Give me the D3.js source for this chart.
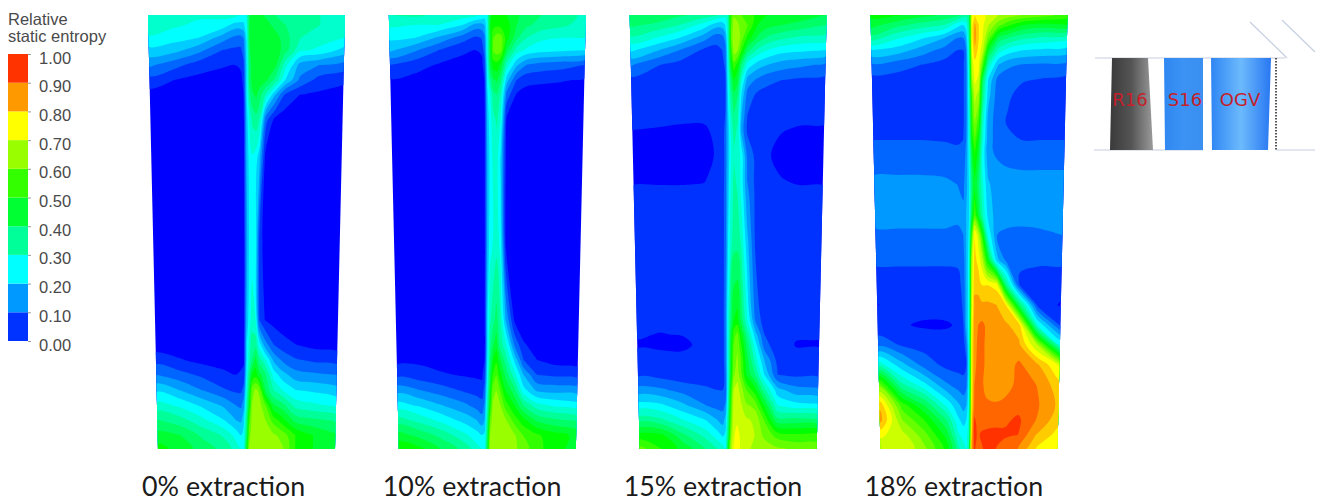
<!DOCTYPE html>
<html>
<head>
<meta charset="utf-8">
<script src="https://cdn.jsdelivr.net/npm/d3@7"></script>
<style>
  html, body { margin: 0; padding: 0; background: #fff; }
  svg { display: block; }
</style>
</head>
<body>
<svg width="1336" height="501"></svg>
<script>
// chord position: -1 = left edge, 0 = wake, 1 = right edge
const chord = [-1, -0.75, -0.5, -0.25, -0.12, -0.06, -0.03, 0, 0.03, 0.06, 0.1, 0.14, 0.2, 0.3, 0.4, 0.55, 0.75, 1];

// span position in % from casing, one row of values per entry
const span0 = [0, 2.3, 5.3, 8.1, 11.5, 15, 18.4, 24.2, 33.4, 51.8, 70.3, 76, 79.5, 82.9, 86.4, 89.9, 93.3, 96.8, 100];
const span10 = span0;
const span15 = [0, 2.3, 5.3, 8.1, 11.5, 15, 18.4, 23, 26.5, 32.3, 38, 41.5, 51.8, 70.3, 73.7, 76, 79.5, 82.9, 86.4, 89.9, 93.3, 96.8, 100];
const span18 = [0, 2.3, 5.3, 8.1, 11.5, 15, 18.4, 24.2, 28.8, 31.1, 35.7, 39.2, 46.1, 50.7, 56.5, 62.2, 66.8, 71.4, 76, 80.6, 85.3, 89.9, 93.3, 96.8, 100];

// relative static entropy x 100
const entropy0 = [
  [34,33,31,31.5,32,30,28, 30, 44,47,47,46,44,40,38,37,35,33],
  [32,31,29,28,23,23,24, 28, 45,48,49,48,47,43,40,37,35,33],
  [29.5,27,25,17.5,13.5,13,15, 26, 45,48,49,49,49,47,42,35,32,30],
  [23.5,22,17,10,9,9,12, 25, 44,48,49,49,49,48,42,31,29,23],
  [16,12,7.5,5.5,5,6,9, 24, 42,47,49,49,48,46,32,18,15,13],
  [8,5,3.5,3,3,3,7, 24, 42,47,48,48,46,38,25,14,8,6],
  [3,2.5,2,2,2,2,5, 24, 38,44,46,42,34,20,9,5,4,3],
  [2,2,2,2,2,2,3, 22, 30,36,38,34,12,3,2,2,2,2],
  [2,2,2,2,2,2,3, 20, 27,29,27,20,3,2,2,2,2,2],
  [2,2,2,2,2,2,3, 18, 26,28,26,8,2,2,2,2,2,2],
  [2,2,2,2,2,2,3, 20, 28,32,30,10,5,3,2,2,2,2],
  [2,2,2,2,2,2,3, 24, 32,38,38,28,18,10,7,5,3.5,3],
  [8,5.5,3.5,3,3,3,4, 24, 34,40,47,38,32,19,14,10.5,9,8],
  [15,12,9,6,5,6,7, 26, 40,50,53,47,42,28,22,17,16,15],
  [24,20,15,10.5,9,9,12, 30, 45,62,66,64,46,35,30,25,24,22],
  [32,29,24,19,15,14,18, 34, 50,65,68,67,62,46,42,33,31,29],
  [40,37,31.5,25,20,19,24, 38, 58,66,68,68,66,58,52,43,41,39],
  [47,45,39,34,28,25,27, 42, 62,68,69,68,67,66,63,55,50,46],
  [52,48,43,38,33,30,30, 48, 66,70,69,68,67,67,66,55,50,48]
];

const entropy10 = [
  [35,36,34,33,32,30,28, 30, 48,52,52,52,50,46,42,40,37,34],
  [31,30,30,25,18,18,20, 30, 50,53,54,53,52,45,41,38,36,33],
  [26,25,19,12,9,10,14, 30, 48,60,63,62,52,41,35,31,30,30],
  [21,16,10,6,5,6,12, 30, 48,61,63,62,45,33,29,27,26,25],
  [10,7,4.5,3,3,3,8, 28, 46,52,53,48,33,21,15,13,12,10],
  [4.5,3.5,3,2,2,3,5, 26, 38,44,46,40,22,10,6.5,6,5.5,4.5],
  [2,2,2,2,2,2,4, 24, 30,38,40,34,13,4.5,3,2.5,2,2],
  [2,2,2,2,2,2,3, 22, 28,33,36,30,4,2,2,2,2,2],
  [2,2,2,2,2,2,3, 20, 27,31,32,24,3,2,2,2,2,2],
  [2,2,2,2,2,2,3, 20, 28,30,33,28,3,2,2,2,2,2],
  [2,2,2,2,2,2,3, 24, 34,38,42,36,20,4,2,2,2,2],
  [2,2,2,2,2,2,3, 24, 38,44,48,38,32,14,5.5,3,2,2],
  [3.5,4,3,2.5,2.5,3,5, 25, 40,50,54,46,38,24,10,5,3,2.5],
  [8.5,7,5.5,4.5,4,4,8, 27, 44,55,60,52,44,32,20,10,9,8],
  [18,15,12,9,8,7,12, 30, 48,62,65,60,50,42,27,19,18,17.5],
  [27,24,20,16,13,12,16, 34, 52,66,68,66,58,50,40,32,29,27],
  [37,33,28,23,20,17,20, 38, 60,68,69,68,66,58,52,44,41,39],
  [47,43,38,31,27,25,26, 42, 65,69,69,68,67,66,60,56,52,49],
  [54,51,44,38,32,30,30, 44, 67,69,69,68,67,66,63,57,52,48]
];

const entropy15 = [
  [45,44,41,38,36,33,32, 35, 58,64,62,60,58,53,50,50,48,45],
  [41,39,35,28,22,22,25, 34, 60,68,66,62,60,50,47,45,43,40],
  [34,30,25,17,12,13,17, 34, 60,70,68,62,53,44,39,36,33.5,33],
  [26,21,15,9,8.5,10,13, 32, 56,68,65,55,42,34,30,27,26,25],
  [15.5,10.5,8,7,7,8,11, 30, 50,58,52,40,28,22.5,20,17.5,16,14],
  [8.5,7.5,7,7,7,7,9, 28, 42,50,46,30,18,14,11.5,10,9,8.5],
  [7,7,7,7,6.5,7,9, 26, 38,44,40,24,13,9,8,8,7.5,7.5],
  [6,6,5.8,5.8,6,7,10, 24, 34,40,36,20,10,7.5,7,6.5,6,6],
  [5,4.8,4.5,4.5,5.8,7,12, 22, 32,37,34,18,9,7.5,7,5.2,4.6,4.5],
  [4,4,4,4,5.3,7,12, 22, 30,35,33,28,14,8,5.5,4,4,4],
  [4.5,4.5,4.5,4.8,6.5,7.5,12, 23, 31,36,34,28,15,8,7,5.2,4.5,4.5],
  [6,6,6,6,7,8,12, 23, 32,36,35,29,17,8,7,6,6,6],
  [7,7,7,7,7,8,12, 25, 33,38,38,34,22,8,7,6.5,6.5,6.5],
  [5.5,5.5,5.5,6,6,7,14, 30, 42,50,52,44,32,14,7,6,6,6],
  [5.2,4.9,5.1,6,6,7,14, 30, 46,58,62,52,40,22,10,6,5.3,5.2],
  [4.8,4.5,4.3,6,6,7,14, 30, 48,60,64,56,44,27,12,6.5,4.8,4.8],
  [5.8,6,6,6,6,7,14, 30, 49,62,66,60,48,33,20,8,6,6],
  [9,8,7,7,7,7.5,12, 30, 50,64,68,62,50,40,25,10,9,9],
  [17,16,13,11,10,10,11, 32, 54,70,72,68,60,52,37,22,17,16],
  [27,26,21,15,13,13,16, 34, 58,72,73,71,66,63,50,30,27,26],
  [38,36,30,25,20,18,22, 38, 60,73,74,73,71,69,60,42,42,41],
  [52,51,41,33,27,24,26, 42, 64,74,77,74,72,70,64,58,56,57],
  [62,55,48,40,35,32,30, 48, 68,75,78,74,72,68,68,66,64,63]
];

const entropy18 = [
  [52,51,47,44,42,38,36, 40, 76,80,78,76,74,70,68,65,62,58],
  [47,42,38,35,27,25,28, 38, 78,86,80,76,70,62,56,50,48,50],
  [38,31,26,20,15,15,20, 36, 78,87,80,75,62,44,40,36,34,32],
  [25,23,18,13,10,10,15, 34, 76,84,78,72,48,33,28,25,24,23],
  [14,12,10,8,8,9,14, 32, 72,78,76,60,34,20,16,14.5,14,13.5],
  [8,8,8,8,8,9,14, 30, 68,76,74,44,24,13,12,10.5,9.5,8.5],
  [8,8,8,8,8,9,14, 30, 60,72,68,40,22,12,11,8,8,8],
  [8,8,8,8,8,9,14, 28, 56,66,58,34,18,12,9.5,8,8,8],
  [10,10,10,9.5,9,10,15, 28, 52,60,50,32,17,13,11,10,10,10],
  [12,12,12,12,11,12,16, 27, 48,56,48,30,16,14,12,12,12,12],
  [14.5,14.5,14.5,14,13,13,17, 26, 44,52,44,30,19,16,15.5,15,15,15],
  [16,16,16,16,15,14,18, 25, 42,50,42,32,21,17,17,16,16,16],
  [17,17,17,17,16,16,20, 25, 46,60,48,36,24,17,17,17,17,17],
  [14,14,14,14,14,15,20, 26, 60,80,72,56,30,15,14,13.5,14,15],
  [11,11,11,11,11,13,20, 28, 70,82,78,72,52,22,14,11,11,11],
  [7,7,7,7,8,12,20, 28, 72,84,84,80,80,78,40,9,7,7],
  [4.9,6,7,7,7,11,20, 28, 74,86,86,86,86,85,80,42,8,4.5],
  [6,5.5,4.4,4.5,5.5,10,20, 28, 76,88,90,91,89,88,86,82,30,9],
  [13.5,9.5,8,7,7,8,14, 28, 78,88,91,91,89,88,88,86,70,30],
  [33,22,13,8.5,8,8,10, 28, 78,89,91,91,89,86,87,91,86,74],
  [63,37,27,16,13,12,14, 30, 78,90,91,91,88,85,87,92,90,82],
  [84,58,45,29,21,18,20, 30, 80,91,92,92,91,91,92,93,91,84],
  [87,65,55,40,26,23,25, 32, 82,96,93,92,92,93,94,96,90,82],
  [76,72,62,48,31,28,28, 34, 84,97,94,96,97,97,96,95,85,78],
  [72,75,66,53,36,32,30, 36, 86,96,92,94,97,95,92,90,80,76]
];

const extractionLabels = ['0% extraction', '10% extraction', '15% extraction', '18% extraction'];
const spans = [span0, span10, span15, span18];
const entropies = [entropy0, entropy10, entropy15, entropy18];

const contourLevels = d3.range(0, 100, 5);
const legendLevels = d3.range(0, 100, 10);
const legendTicks = d3.range(0, 1.01, 0.1);

const rainbow = d3.scaleLinear()
  .domain([0, 25, 50, 75, 100])
  .range(['#0000ff', '#00ffff', '#00ff00', '#ffff00', '#ff0000']);

const svg = d3.select('svg');
const defs = svg.append('defs');

defs.append('filter')
  .attr('id', 'soft')
  .append('feGaussianBlur')
  .attr('stdDeviation', 0.5);

const panelCenter = d3.scalePoint().domain(extractionLabels).range([246.5, 969]);
const spanY = d3.scaleLinear().domain([0, 100]).range([15, 449]);
const halfWidth = d3.scaleLinear().domain([0, 100]).range([98.5, 88.5]);
const smoothRing = d3.line().curve(d3.curveCatmullRomClosed.alpha(0.5));

function drawPanel(label, i) {
  const span = spans[i];
  const rows = entropies[i];
  const center = panelCenter(label);

  // not clamped, so the outer ring of the contours falls outside the clip
  const chordOf = d3.scaleLinear().domain(d3.range(chord.length)).range(chord);
  const spanOf = d3.scaleLinear().domain(d3.range(span.length)).range(span);

  // contour grid -> page, the grid is not uniform and the panel is a trapezoid
  function warp(p) {
    const s = spanOf(p[1] - 0.5);
    const c = chordOf(p[0] - 0.5);
    return [center + c * halfWidth(s), spanY(s)];
  }

  function contourPath(d) {
    return d.coordinates
      .flatMap(polygon => polygon.map(ring => smoothRing(ring.slice(1).map(warp))))
      .join('');
  }

  const contours = d3.contours()
    .size([chord.length, span.length])
    .smooth(true)
    .thresholds(contourLevels)(rows.flat());

  defs.append('clipPath')
    .attr('id', 'panel' + i)
    .append('polygon')
    .attr('points', [[-1, 0], [1, 0], [1, 100], [-1, 100]]
      .map(p => [center + p[0] * halfWidth(p[1]), spanY(p[1])]).join(' '));

  svg.append('g')
    .attr('filter', 'url(#soft)')
    .append('g')
    .attr('clip-path', 'url(#panel' + i + ')')
    .selectAll('path')
    .data(contours)
    .enter()
    .append('path')
    .attr('d', contourPath)
    .attr('fill', d => rainbow(d.value));

  svg.append('text')
    .attr('x', center - 104.5)
    .attr('y', 496)
    .attr('font-family', 'Lato')
    .attr('font-size', 26.8)
    .attr('fill', '#1a1a1a')
    .text(label);
}
extractionLabels.forEach(drawPanel);

// legend
const legendY = d3.scaleLinear().domain([0, 1]).range([341, 54]);
const legend = svg.append('g');

legend.selectAll('rect')
  .data(legendLevels)
  .enter()
  .append('rect')
  .attr('x', 8)
  .attr('width', 20)
  .attr('y', d => legendY((d + 10) / 100))
  .attr('height', d => legendY(d / 100) - legendY((d + 10) / 100))
  .attr('fill', d => rainbow(d + 5));

const legendAxis = legend.append('g')
  .attr('transform', 'translate(28,0)')
  .call(d3.axisRight(legendY).tickValues(legendTicks).tickFormat(d3.format('.2f')).tickSize(3).tickPadding(8));
legendAxis.select('.domain').remove();
legendAxis.selectAll('line').attr('stroke', '#999');
legendAxis.selectAll('text')
  .attr('font-family', 'Liberation Sans')
  .attr('font-size', 16.5)
  .attr('fill', '#4a4a4a')
  .attr('dy', '0.55em');

legend.selectAll('.title')
  .data(['Relative', 'static entropy'])
  .enter()
  .append('text')
  .attr('class', 'title')
  .attr('x', 8)
  .attr('y', (d, i) => 25 + i * 17)
  .attr('font-family', 'Liberation Sans')
  .attr('font-size', 16.5)
  .attr('fill', '#4a4a4a')
  .text(d => d);

// blade row sketch
const bladeNames = ['R16', 'S16', 'OGV'];
const bladeStops = [
  ['#3a3a3a', '#555555', '#9a9a9a'],
  ['#2f88f2', '#3c93f4', '#3a8ff0'],
  ['#2f86f4', '#6cbafc', '#2877f2']
];
const bladeShapes = [
  [[1112, 58], [1148, 58], [1153, 150], [1110, 150]],
  [[1164, 58], [1203, 58], [1203, 150], [1165, 150]],
  [[1211, 58], [1271, 58], [1268, 150], [1212, 150]]
];
const bladeLabelX = [1130, 1185, 1240];
const sketchLines = [
  [1095, 58, 1285, 58], [1094, 150, 1203, 150], [1276, 150, 1315, 150],
  [1250, 22, 1287, 58], [1282, 20, 1315, 52]
];

bladeNames.forEach(function(name, i) {
  const grad = defs.append('linearGradient').attr('id', 'blade' + i);
  bladeStops[i].forEach(function(c, j) {
    grad.append('stop').attr('offset', j / 2).attr('stop-color', c);
  });
});

const sketch = svg.append('g');
sketch.selectAll('line.edge')
  .data(sketchLines)
  .enter()
  .append('line')
  .attr('class', 'edge')
  .attr('x1', d => d[0]).attr('y1', d => d[1])
  .attr('x2', d => d[2]).attr('y2', d => d[3])
  .attr('stroke', '#c6d0e0')
  .attr('stroke-width', 1.2);

sketch.selectAll('polygon')
  .data(bladeShapes)
  .enter()
  .append('polygon')
  .attr('points', d => d.join(' '))
  .attr('fill', (d, i) => 'url(#blade' + i + ')');

sketch.append('line')
  .attr('x1', 1276).attr('y1', 58)
  .attr('x2', 1276).attr('y2', 150)
  .attr('stroke', '#555')
  .attr('stroke-width', 2)
  .attr('stroke-dasharray', '1.5 1.5');

sketch.selectAll('text')
  .data(bladeNames)
  .enter()
  .append('text')
  .attr('x', (d, i) => bladeLabelX[i])
  .attr('y', 106)
  .attr('text-anchor', 'middle')
  .attr('font-family', 'DejaVu Sans')
  .attr('font-size', 18)
  .attr('fill', '#c41f2b')
  .text(d => d);
</script>
</body>
</html>
